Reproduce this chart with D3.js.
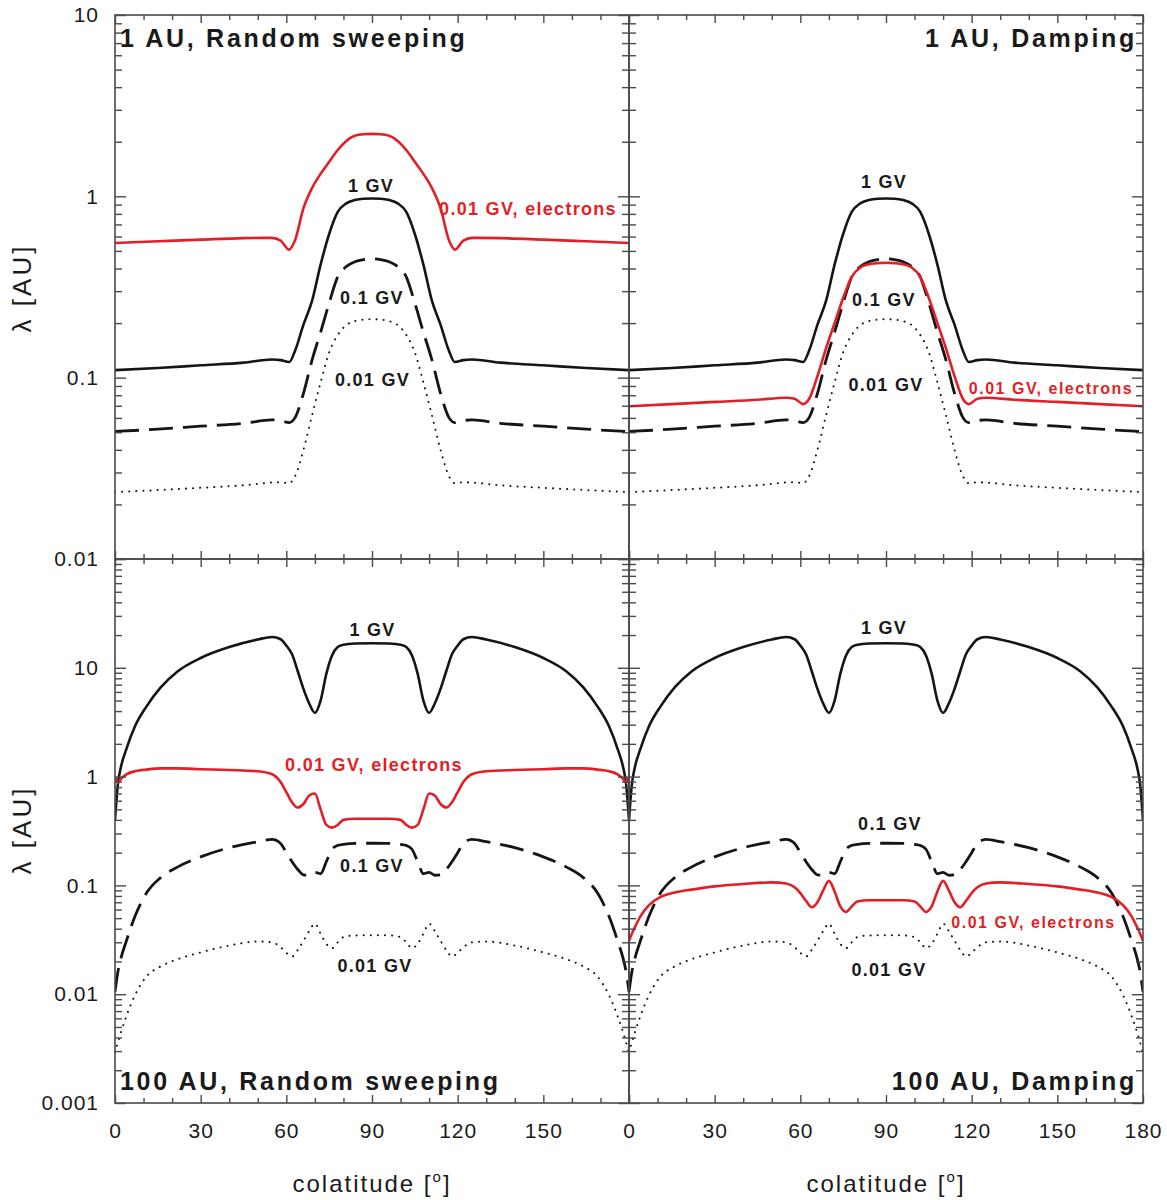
<!DOCTYPE html>
<html>
<head>
<meta charset="utf-8">
<script src="https://cdn.jsdelivr.net/npm/d3@7"></script>
<style>
  body { margin: 0; background: #fff; }
  svg { display: block; }
  text { font-family: "Liberation Sans", Arial, Helvetica, sans-serif; }
</style>
</head>
<body>
<svg id="chart" width="1167" height="1200"></svg>
<script>
// ---------------- data: mean free path λ [AU] vs colatitude [deg] ----------------

// 1 AU panels
const degTop = [0, 15, 30, 45, 55, 58, 61, 63, 66, 69, 72, 75, 78, 81, 84, 87, 90,
                93, 96, 99, 102, 105, 108, 111, 114, 117, 119, 122, 125, 135, 150, 165, 180];

const lam1GV_1AU = [0.110, 0.113, 0.117, 0.121, 0.126, 0.125, 0.122, 0.140, 0.196, 0.265, 0.420, 0.620, 0.820, 0.915, 0.955, 0.970, 0.972,
                    0.970, 0.955, 0.915, 0.820, 0.620, 0.420, 0.265, 0.196, 0.140, 0.122, 0.125, 0.126, 0.121, 0.117, 0.113, 0.110];

const lam01GV_1AU = [0.0505, 0.0520, 0.0540, 0.0560, 0.0585, 0.0580, 0.0565, 0.0600, 0.0820, 0.1250, 0.1780, 0.2580, 0.3600, 0.4100, 0.4360, 0.4480, 0.4520,
                     0.4480, 0.4360, 0.4100, 0.3600, 0.2580, 0.1780, 0.1250, 0.0820, 0.0600, 0.0565, 0.0580, 0.0585, 0.0560, 0.0540, 0.0520, 0.0505];

const lam001GV_1AU = [0.0234, 0.0240, 0.0247, 0.0255, 0.0264, 0.0265, 0.0262, 0.0285, 0.0400, 0.0620, 0.0940, 0.1380, 0.1720, 0.1950, 0.2050, 0.2090, 0.2100,
                      0.2090, 0.2050, 0.1950, 0.1720, 0.1380, 0.0940, 0.0620, 0.0400, 0.0285, 0.0262, 0.0265, 0.0264, 0.0255, 0.0247, 0.0240, 0.0234];

const elec_1AU_sweep = [0.553, 0.565, 0.577, 0.588, 0.590, 0.570, 0.508, 0.570, 0.860, 1.110, 1.330, 1.550, 1.800, 2.020, 2.160, 2.200, 2.210,
                        2.200, 2.160, 2.020, 1.800, 1.550, 1.330, 1.110, 0.860, 0.570, 0.508, 0.570, 0.590, 0.588, 0.577, 0.565, 0.553];

const elec_1AU_damp = [0.0695, 0.0715, 0.0735, 0.0755, 0.0775, 0.0765, 0.0715, 0.0760, 0.1020, 0.1450, 0.2000, 0.2750, 0.3600, 0.4050, 0.4220, 0.4280, 0.4300,
                       0.4280, 0.4220, 0.4050, 0.3600, 0.2750, 0.2000, 0.1450, 0.1020, 0.0760, 0.0715, 0.0765, 0.0775, 0.0755, 0.0735, 0.0715, 0.0695];

// 100 AU panels
const degBot = [0, 1, 2, 4, 7, 11, 16, 22, 30, 40, 50, 55, 58, 60, 62, 64, 66, 68, 70, 72, 74, 76, 78, 80, 84, 90,
                96, 100, 102, 104, 106, 108, 110, 112, 114, 116, 118, 120, 122, 125, 130, 140, 150, 158, 164, 169, 173, 176, 178, 179, 180];

const lam1GV_100AU = [0.40, 0.85, 1.20, 1.80, 2.90, 4.40, 6.60, 9.30, 12.3, 15.5, 18.2, 19.2, 18.3, 16.0, 13.3, 9.30, 6.40, 4.70, 3.85, 5.00, 8.80, 13.0, 15.5, 16.3, 16.7, 16.8,
                      16.7, 16.3, 15.5, 13.0, 8.80, 5.00, 3.85, 4.70, 6.40, 9.30, 13.3, 16.0, 18.3, 19.2, 18.2, 15.5, 12.3, 9.30, 6.60, 4.40, 2.90, 1.80, 1.20, 0.85, 0.40];

const lam01GV_100AU = [0.0105, 0.016, 0.021, 0.031, 0.052, 0.085, 0.118, 0.148, 0.183, 0.222, 0.252, 0.265, 0.243, 0.200, 0.165, 0.140, 0.125, 0.124, 0.132, 0.128, 0.165, 0.215, 0.233, 0.238, 0.243, 0.244,
                       0.243, 0.238, 0.233, 0.215, 0.165, 0.128, 0.132, 0.124, 0.125, 0.140, 0.165, 0.200, 0.243, 0.265, 0.252, 0.222, 0.183, 0.148, 0.118, 0.085, 0.052, 0.031, 0.021, 0.016, 0.0105];

const lam001GV_100AU = [0.0029, 0.0036, 0.0044, 0.0063, 0.0098, 0.0145, 0.0180, 0.0210, 0.0242, 0.0280, 0.0305, 0.0300, 0.0270, 0.0240, 0.0222, 0.0255, 0.0310, 0.0380, 0.0445, 0.0360, 0.0290, 0.0265, 0.0300, 0.0335, 0.0347, 0.0348,
                        0.0347, 0.0335, 0.0300, 0.0265, 0.0290, 0.0360, 0.0445, 0.0380, 0.0310, 0.0255, 0.0222, 0.0240, 0.0270, 0.0300, 0.0305, 0.0280, 0.0242, 0.0210, 0.0180, 0.0145, 0.0098, 0.0063, 0.0044, 0.0036, 0.0029];

const elec_100AU_sweep = [1.00, 0.88, 0.95, 1.05, 1.12, 1.16, 1.19, 1.19, 1.17, 1.15, 1.12, 1.05, 0.89, 0.72, 0.58, 0.52, 0.56, 0.67, 0.70, 0.50, 0.36, 0.34, 0.36, 0.40, 0.41, 0.41,
                          0.41, 0.40, 0.36, 0.34, 0.36, 0.50, 0.70, 0.67, 0.56, 0.52, 0.58, 0.72, 0.89, 1.05, 1.12, 1.15, 1.17, 1.19, 1.19, 1.16, 1.12, 1.05, 0.95, 0.88, 1.00];

const elec_100AU_damp = [0.031, 0.036, 0.041, 0.052, 0.066, 0.078, 0.086, 0.0915, 0.098, 0.103, 0.1065, 0.104, 0.096, 0.085, 0.072, 0.063, 0.070, 0.090, 0.110, 0.088, 0.064, 0.057, 0.064, 0.071, 0.073, 0.0731,
                         0.073, 0.071, 0.064, 0.057, 0.064, 0.088, 0.110, 0.090, 0.070, 0.063, 0.072, 0.085, 0.096, 0.104, 0.1065, 0.103, 0.098, 0.0915, 0.086, 0.078, 0.066, 0.052, 0.041, 0.036, 0.031];

// axis ticks
const xMajor = [0, 30, 60, 90, 120, 150, 180];
const xMinor = [10, 20, 40, 50, 70, 80, 100, 110, 130, 140, 160, 170];
const yDecadesTop = [0.01, 0.1, 1, 10];
const yDecadesBot = [0.001, 0.01, 0.1, 1, 10, 100];
const yLabelsTop = [0.01, 0.1, 1, 10];
const yLabelsBot = [0.001, 0.01, 0.1, 1, 10];

// ---------------- layout ----------------
const svg = d3.select('#chart');
const colX = [115, 629];
const rowY = [15, 559];
const panelW = 514, panelH = 544;
const RED = '#e41e26', INK = '#151515', TXT = '#1a1a1a', FRAME = '#4a4a4a';

const styles = {
  solid: { stroke: INK, width: 2.6, dash: null },
  dash:  { stroke: INK, width: 2.8, dash: '24 10' },
  dot:   { stroke: INK, width: 2.0, dash: '0.1 7' },
  red:   { stroke: RED, width: 2.6, dash: null }
};

const panels = [
  { col: 0, row: 0, domain: [0.01, 10], decades: yDecadesTop, yLabels: yLabelsTop, xLabels: null,
    title: '1 AU, Random sweeping', titleAnchor: 'start', titleY: 47,
    series: [
      { deg: degTop, lam: lam001GV_1AU, s: 'dot' },
      { deg: degTop, lam: lam01GV_1AU, s: 'dash' },
      { deg: degTop, lam: lam1GV_1AU, s: 'solid' },
      { deg: degTop, lam: elec_1AU_sweep, s: 'red' }
    ],
    labels: [
      { t: '1 GV', x: 371, y: 186, red: false, size: 18 },
      { t: '0.01 GV, electrons', x: 528, y: 208.5, red: true, size: 18 },
      { t: '0.1 GV', x: 372, y: 297.5, red: false, size: 18 },
      { t: '0.01 GV', x: 372.5, y: 380, red: false, size: 18 }
    ] },
  { col: 1, row: 0, domain: [0.01, 10], decades: yDecadesTop, yLabels: null, xLabels: null,
    title: '1 AU, Damping', titleAnchor: 'end', titleY: 47,
    series: [
      { deg: degTop, lam: lam001GV_1AU, s: 'dot' },
      { deg: degTop, lam: lam01GV_1AU, s: 'dash' },
      { deg: degTop, lam: lam1GV_1AU, s: 'solid' },
      { deg: degTop, lam: elec_1AU_damp, s: 'red' }
    ],
    labels: [
      { t: '1 GV', x: 884, y: 181.5, red: false, size: 18 },
      { t: '0.1 GV', x: 884, y: 300, red: false, size: 18 },
      { t: '0.01 GV', x: 886, y: 385, red: false, size: 18 },
      { t: '0.01 GV, electrons', x: 1051, y: 388, red: true, size: 16 }
    ] },
  { col: 0, row: 1, domain: [0.001, 100], decades: yDecadesBot, yLabels: yLabelsBot, xLabels: xMajor.slice(0, 6),
    title: '100 AU, Random sweeping', titleAnchor: 'start', titleY: 1090,
    series: [
      { deg: degBot, lam: lam001GV_100AU, s: 'dot' },
      { deg: degBot, lam: lam01GV_100AU, s: 'dash' },
      { deg: degBot, lam: lam1GV_100AU, s: 'solid' },
      { deg: degBot, lam: elec_100AU_sweep, s: 'red' }
    ],
    labels: [
      { t: '1 GV', x: 372.5, y: 629.5, red: false, size: 18 },
      { t: '0.01 GV, electrons', x: 374, y: 765, red: true, size: 18 },
      { t: '0.1 GV', x: 372, y: 866, red: false, size: 18 },
      { t: '0.01 GV', x: 375, y: 966, red: false, size: 18 }
    ] },
  { col: 1, row: 1, domain: [0.001, 100], decades: yDecadesBot, yLabels: null, xLabels: xMajor,
    title: '100 AU, Damping', titleAnchor: 'end', titleY: 1090,
    series: [
      { deg: degBot, lam: lam001GV_100AU, s: 'dot' },
      { deg: degBot, lam: lam01GV_100AU, s: 'dash' },
      { deg: degBot, lam: lam1GV_100AU, s: 'solid' },
      { deg: degBot, lam: elec_100AU_damp, s: 'red' }
    ],
    labels: [
      { t: '1 GV', x: 884, y: 627.5, red: false, size: 18 },
      { t: '0.1 GV', x: 890, y: 824, red: false, size: 18 },
      { t: '0.01 GV, electrons', x: 1033.5, y: 922.5, red: true, size: 16 },
      { t: '0.01 GV', x: 889, y: 970, red: false, size: 18 }
    ] }
];

const fmt = d => String(+d.toPrecision(3));

panels.forEach((p, i) => {
  const x0 = colX[p.col], y0 = rowY[p.row];
  const g = svg.append('g').attr('transform', `translate(${x0},${y0})`);
  const x = d3.scaleLinear().domain([0, 180]).range([0, panelW]);
  const y = d3.scaleLog().domain(p.domain).range([panelH, 0]);

  const clipId = 'clip' + i;
  g.append('clipPath').attr('id', clipId)
    .append('rect').attr('x', 0).attr('y', 0).attr('width', panelW).attr('height', panelH);

  // curves
  const plot = g.append('g').attr('clip-path', `url(#${clipId})`);
  p.series.forEach(sr => {
    const st = styles[sr.s];
    const pts = sr.deg.map((d, k) => [d, sr.lam[k]]);
    const line = d3.line().x(d => x(d[0])).y(d => y(d[1])).curve(d3.curveMonotoneX);
    plot.append('path')
      .attr('d', line(pts))
      .attr('fill', 'none')
      .attr('stroke', st.stroke)
      .attr('stroke-width', st.width)
      .attr('stroke-dasharray', st.dash)
      .attr('stroke-linecap', sr.s === 'dot' ? 'round' : 'butt')
      .attr('stroke-linejoin', 'round');
  });

  // minor decade ticks from the log scale
  const minorY = y.ticks().filter(v => !p.decades.some(dv => Math.abs(v / dv - 1) < 1e-6));

  const styleAxis = sel => {
    sel.select('.domain').remove();
    sel.selectAll('.tick line').attr('stroke', FRAME).attr('stroke-width', 1.4);
    sel.selectAll('.tick text').style('font-size', '21px').style('letter-spacing', '1px').style('fill', TXT);
  };

  // y axes (ticks pointing inward on both sides)
  g.append('g').call(d3.axisLeft(y).tickValues(p.decades).tickSize(-11).tickFormat('')).call(styleAxis);
  g.append('g').call(d3.axisLeft(y).tickValues(minorY).tickSize(-7).tickFormat('')).call(styleAxis);
  g.append('g').attr('transform', `translate(${panelW},0)`)
    .call(d3.axisRight(y).tickValues(p.decades).tickSize(-11).tickFormat('')).call(styleAxis);
  g.append('g').attr('transform', `translate(${panelW},0)`)
    .call(d3.axisRight(y).tickValues(minorY).tickSize(-7).tickFormat('')).call(styleAxis);
  if (p.yLabels) {
    g.append('g').call(d3.axisLeft(y).tickValues(p.yLabels).tickSize(0).tickPadding(16).tickFormat(fmt)).call(styleAxis);
  }

  // x axes
  g.append('g').call(d3.axisTop(x).tickValues(xMajor).tickSize(-8).tickFormat('')).call(styleAxis);
  g.append('g').call(d3.axisTop(x).tickValues(xMinor).tickSize(-5).tickFormat('')).call(styleAxis);
  g.append('g').attr('transform', `translate(0,${panelH})`)
    .call(d3.axisBottom(x).tickValues(xMajor).tickSize(-8).tickFormat('')).call(styleAxis);
  g.append('g').attr('transform', `translate(0,${panelH})`)
    .call(d3.axisBottom(x).tickValues(xMinor).tickSize(-5).tickFormat('')).call(styleAxis);
  if (p.xLabels) {
    g.append('g').attr('transform', `translate(0,${panelH})`)
      .call(d3.axisBottom(x).tickValues(p.xLabels).tickSize(0).tickPadding(20).tickFormat(d3.format('d'))).call(styleAxis);
  }

  // frame
  g.append('rect').attr('width', panelW).attr('height', panelH)
    .attr('fill', 'none').attr('stroke', FRAME).attr('stroke-width', 1.6);

  // panel title
  svg.append('text')
    .attr('x', p.titleAnchor === 'start' ? x0 + 5 : x0 + panelW - 6)
    .attr('y', p.titleY)
    .attr('text-anchor', p.titleAnchor)
    .style('font-size', '25px').style('font-weight', 'bold').style('letter-spacing', '2.7px')
    .style('fill', TXT)
    .text(p.title);

  // curve labels
  p.labels.forEach(lb => {
    svg.append('text')
      .attr('x', lb.x).attr('y', lb.y)
      .attr('text-anchor', 'middle')
      .attr('dominant-baseline', 'central')
      .style('font-size', lb.size + 'px').style('font-weight', 'bold')
      .style('letter-spacing', lb.size > 17 ? '1.3px' : '1.5px')
      .style('fill', lb.red ? RED : TXT)
      .text(lb.t);
  });
});

// axis titles
[288, 830].forEach(cy => {
  svg.append('text')
    .attr('transform', `translate(31,${cy}) rotate(-90)`)
    .attr('text-anchor', 'middle')
    .style('font-size', '26px').style('letter-spacing', '3px').style('fill', TXT)
    .text('λ [AU]');
});
[372, 886].forEach(cx => {
  const t = svg.append('text')
    .attr('x', cx).attr('y', 1192)
    .attr('text-anchor', 'middle')
    .style('font-size', '24px').style('letter-spacing', '2px').style('fill', TXT);
  t.append('tspan').text('colatitude [');
  t.append('tspan').attr('dy', -10).style('font-size', '15px').text('o');
  t.append('tspan').attr('dy', 10).text(']');
});
</script>
</body>
</html>
